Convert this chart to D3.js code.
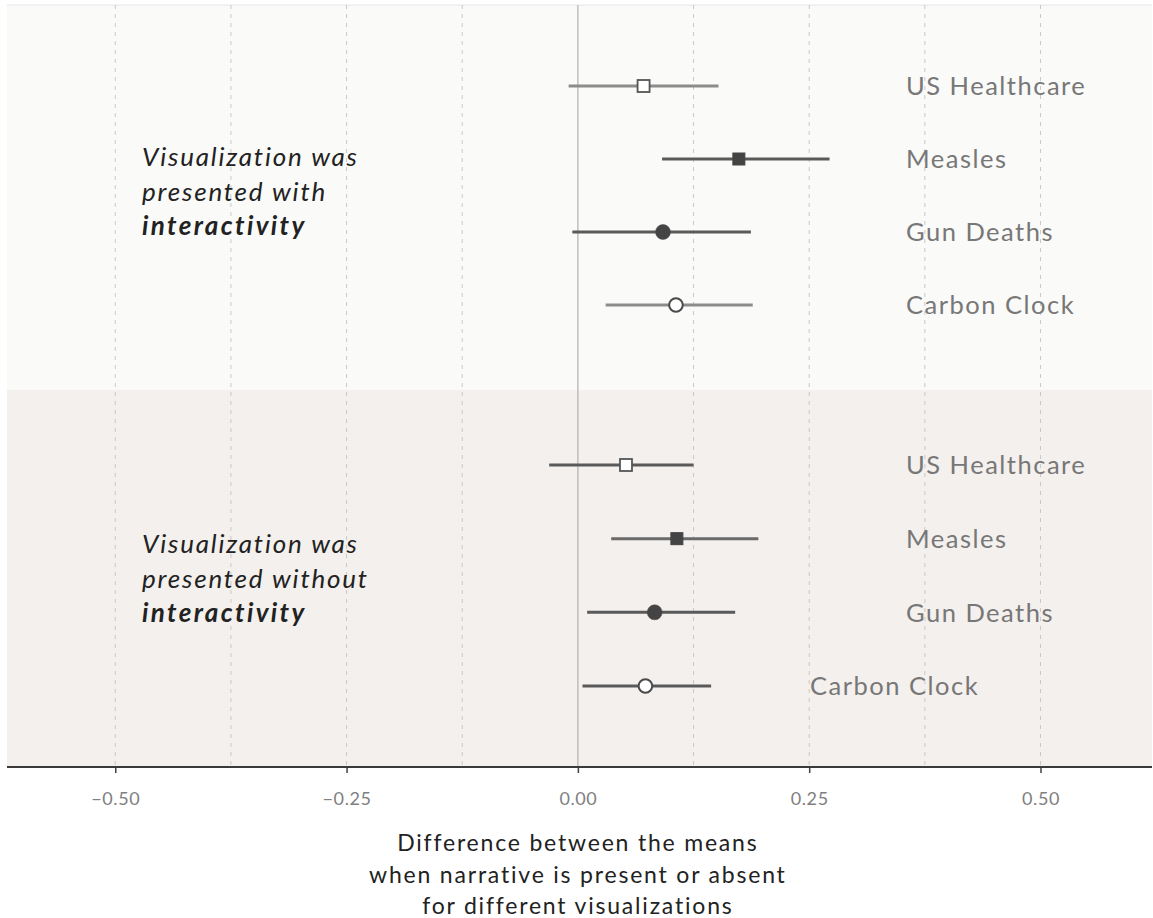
<!DOCTYPE html>
<html>
<head>
<meta charset="utf-8">
<script src="https://cdn.jsdelivr.net/npm/d3@7"></script>
<style>
  body { margin: 0; background: #fff; }
  svg { display: block; }
  .tick-label { font-family: "Lato", sans-serif; font-size: 18px; fill: #808080; letter-spacing: 0.6px; }
  .viz-label { font-family: "Lato", sans-serif; font-size: 25.5px; fill: #777; letter-spacing: 1.5px; }
  .note { font-family: "Lato", sans-serif; font-size: 26px; fill: #222; font-style: italic; letter-spacing: 1.8px; }
  .axis-title { font-family: "Lato", sans-serif; font-size: 23px; fill: #222; letter-spacing: 1.8px; }
</style>
</head>
<body>
<div id="chart"></div>
<script>
// Données
const visualizations = ["US Healthcare", "Measles", "Gun Deaths", "Carbon Clock"];
const markerShapes = ["openSquare", "square", "circle", "openCircle"];

// avec interactivité
const withMean = [0.071, 0.174, 0.092, 0.106];
const withLow  = [-0.010, 0.091, -0.006, 0.030];
const withHigh = [0.152, 0.272, 0.187, 0.189];

// sans interactivité
const withoutMean = [0.052, 0.107, 0.083, 0.073];
const withoutLow  = [-0.031, 0.036, 0.010, 0.005];
const withoutHigh = [0.125, 0.195, 0.170, 0.144];

const xTicks = [-0.5, -0.25, 0, 0.25, 0.5];
const xGrid = [-0.5, -0.375, -0.25, -0.125, 0.125, 0.25, 0.375, 0.5];
const axisTitle = ["Difference between the means", "when narrative is present or absent", "for different visualizations"];

// Configuration
const width = 1153, height = 918;
const plotLeft = 7, plotRight = 1152, plotTop = 5, plotMid = 390, plotBottom = 767;

const svg = d3.select("#chart").append("svg")
    .attr("width", width)
    .attr("height", height);

const x = d3.scaleLinear().domain([-0.617, 0.6205]).range([plotLeft, plotRight]);

const panels = [
    { top: plotTop, bottom: plotMid, bg: "#fafaf9", rows: [86, 305],
      mean: withMean, low: withLow, high: withHigh,
      note: ["Visualization was", "presented with", "interactivity"], noteY: 157,
      lineColors: ["#8c8c8c", "#5a5a5a", "#5a5a5a", "#8c8c8c"], labelX: [906, 906, 906, 906] },
    { top: plotMid, bottom: plotBottom, bg: "#f3f0ed", rows: [465, 686],
      mean: withoutMean, low: withoutLow, high: withoutHigh,
      note: ["Visualization was", "presented without", "interactivity"], noteY: 544,
      lineColors: ["#5a5a5a", "#6a6a6a", "#5a5a5a", "#5a5a5a"], labelX: [906, 906, 906, 810] }
];

panels.forEach(p => {
    svg.append("rect")
        .attr("x", plotLeft).attr("y", p.top)
        .attr("width", plotRight - plotLeft).attr("height", p.bottom - p.top)
        .attr("fill", p.bg);
});

// ligne du haut
svg.append("line")
    .attr("x1", plotLeft).attr("x2", plotRight)
    .attr("y1", plotTop).attr("y2", plotTop)
    .attr("stroke", "#e6e6e6").attr("stroke-width", 1);

// grille verticale
svg.selectAll(".grid")
    .data(xGrid)
    .enter().append("line")
    .attr("class", "grid")
    .attr("x1", d => x(d)).attr("x2", d => x(d))
    .attr("y1", plotTop).attr("y2", plotBottom)
    .attr("stroke", "#c9c9c9")
    .attr("stroke-width", 1)
    .attr("stroke-dasharray", "4,5");

svg.append("line")
    .attr("x1", x(0)).attr("x2", x(0))
    .attr("y1", plotTop).attr("y2", plotBottom)
    .attr("stroke", "#b5b5b5").attr("stroke-width", 1.3);

// Panneaux
panels.forEach(p => {
    const y = d3.scalePoint().domain(visualizations).range(p.rows);
    const rows = visualizations.map((v, i) => ({
        name: v, shape: markerShapes[i], mean: p.mean[i], low: p.low[i], high: p.high[i],
        color: p.lineColors[i], lx: p.labelX[i]
    }));

    const g = svg.append("g");

    g.selectAll(".ci")
        .data(rows)
        .enter().append("line")
        .attr("x1", d => x(d.low)).attr("x2", d => x(d.high))
        .attr("y1", d => y(d.name)).attr("y2", d => y(d.name))
        .attr("stroke", d => d.color)
        .attr("stroke-width", 3);

    rows.forEach(d => {
        const cx = x(d.mean), cy = y(d.name);
        if (d.shape === "square" || d.shape === "openSquare") {
            const open = d.shape === "openSquare";
            g.append("rect")
                .attr("x", cx - 6).attr("y", cy - 6)
                .attr("width", 12).attr("height", 12)
                .attr("fill", open ? "#fff" : "#444")
                .attr("stroke", open ? "#555" : "#444")
                .attr("stroke-width", open ? 1.8 : 1);
        } else {
            const open = d.shape === "openCircle";
            g.append("circle")
                .attr("cx", cx).attr("cy", cy)
                .attr("r", open ? 6.8 : 7.5)
                .attr("fill", open ? "#fff" : "#444")
                .attr("stroke", "#4a4a4a")
                .attr("stroke-width", open ? 2 : 0.5);
        }
        g.append("text")
            .attr("class", "viz-label")
            .attr("x", d.lx).attr("y", cy)
            .attr("dy", "0.36em")
            .text(d.name);
    });

    p.note.forEach((t, i) => {
        g.append("text")
            .attr("class", "note")
            .attr("x", 142)
            .attr("y", p.noteY + i * 34.5)
            .attr("dy", "0.35em")
            .style("font-weight", i === 2 ? "bold" : "normal")
            .style("letter-spacing", i === 2 ? "2.4px" : null)
            .text(t);
    });
});

// Axe
svg.append("line")
    .attr("x1", plotLeft).attr("x2", plotRight)
    .attr("y1", plotBottom).attr("y2", plotBottom)
    .attr("stroke", "#3a3a3a").attr("stroke-width", 2);

const xAxis = d3.axisBottom(x)
    .tickValues(xTicks)
    .tickSize(5)
    .tickPadding(19)
    .tickFormat(d3.format(".2f"));

const axisG = svg.append("g")
    .attr("transform", `translate(0,${plotBottom + 1})`)
    .call(xAxis);
axisG.select(".domain").remove();
axisG.selectAll(".tick line").attr("stroke", "#444").attr("stroke-width", 1.5);
axisG.selectAll(".tick text")
    .attr("class", "tick-label")
    .attr("fill", null)
    .attr("font-size", null)
    .attr("font-family", null)
    .text(d => d3.format(".2f")(d).replace("-", "\u2212"));

axisTitle.forEach((t, i) => {
    svg.append("text")
        .attr("class", "axis-title")
        .attr("x", x(0))
        .attr("y", 843 + i * 31.5)
        .attr("dy", "0.35em")
        .attr("text-anchor", "middle")
        .text(t);
});
</script>
</body>
</html>
